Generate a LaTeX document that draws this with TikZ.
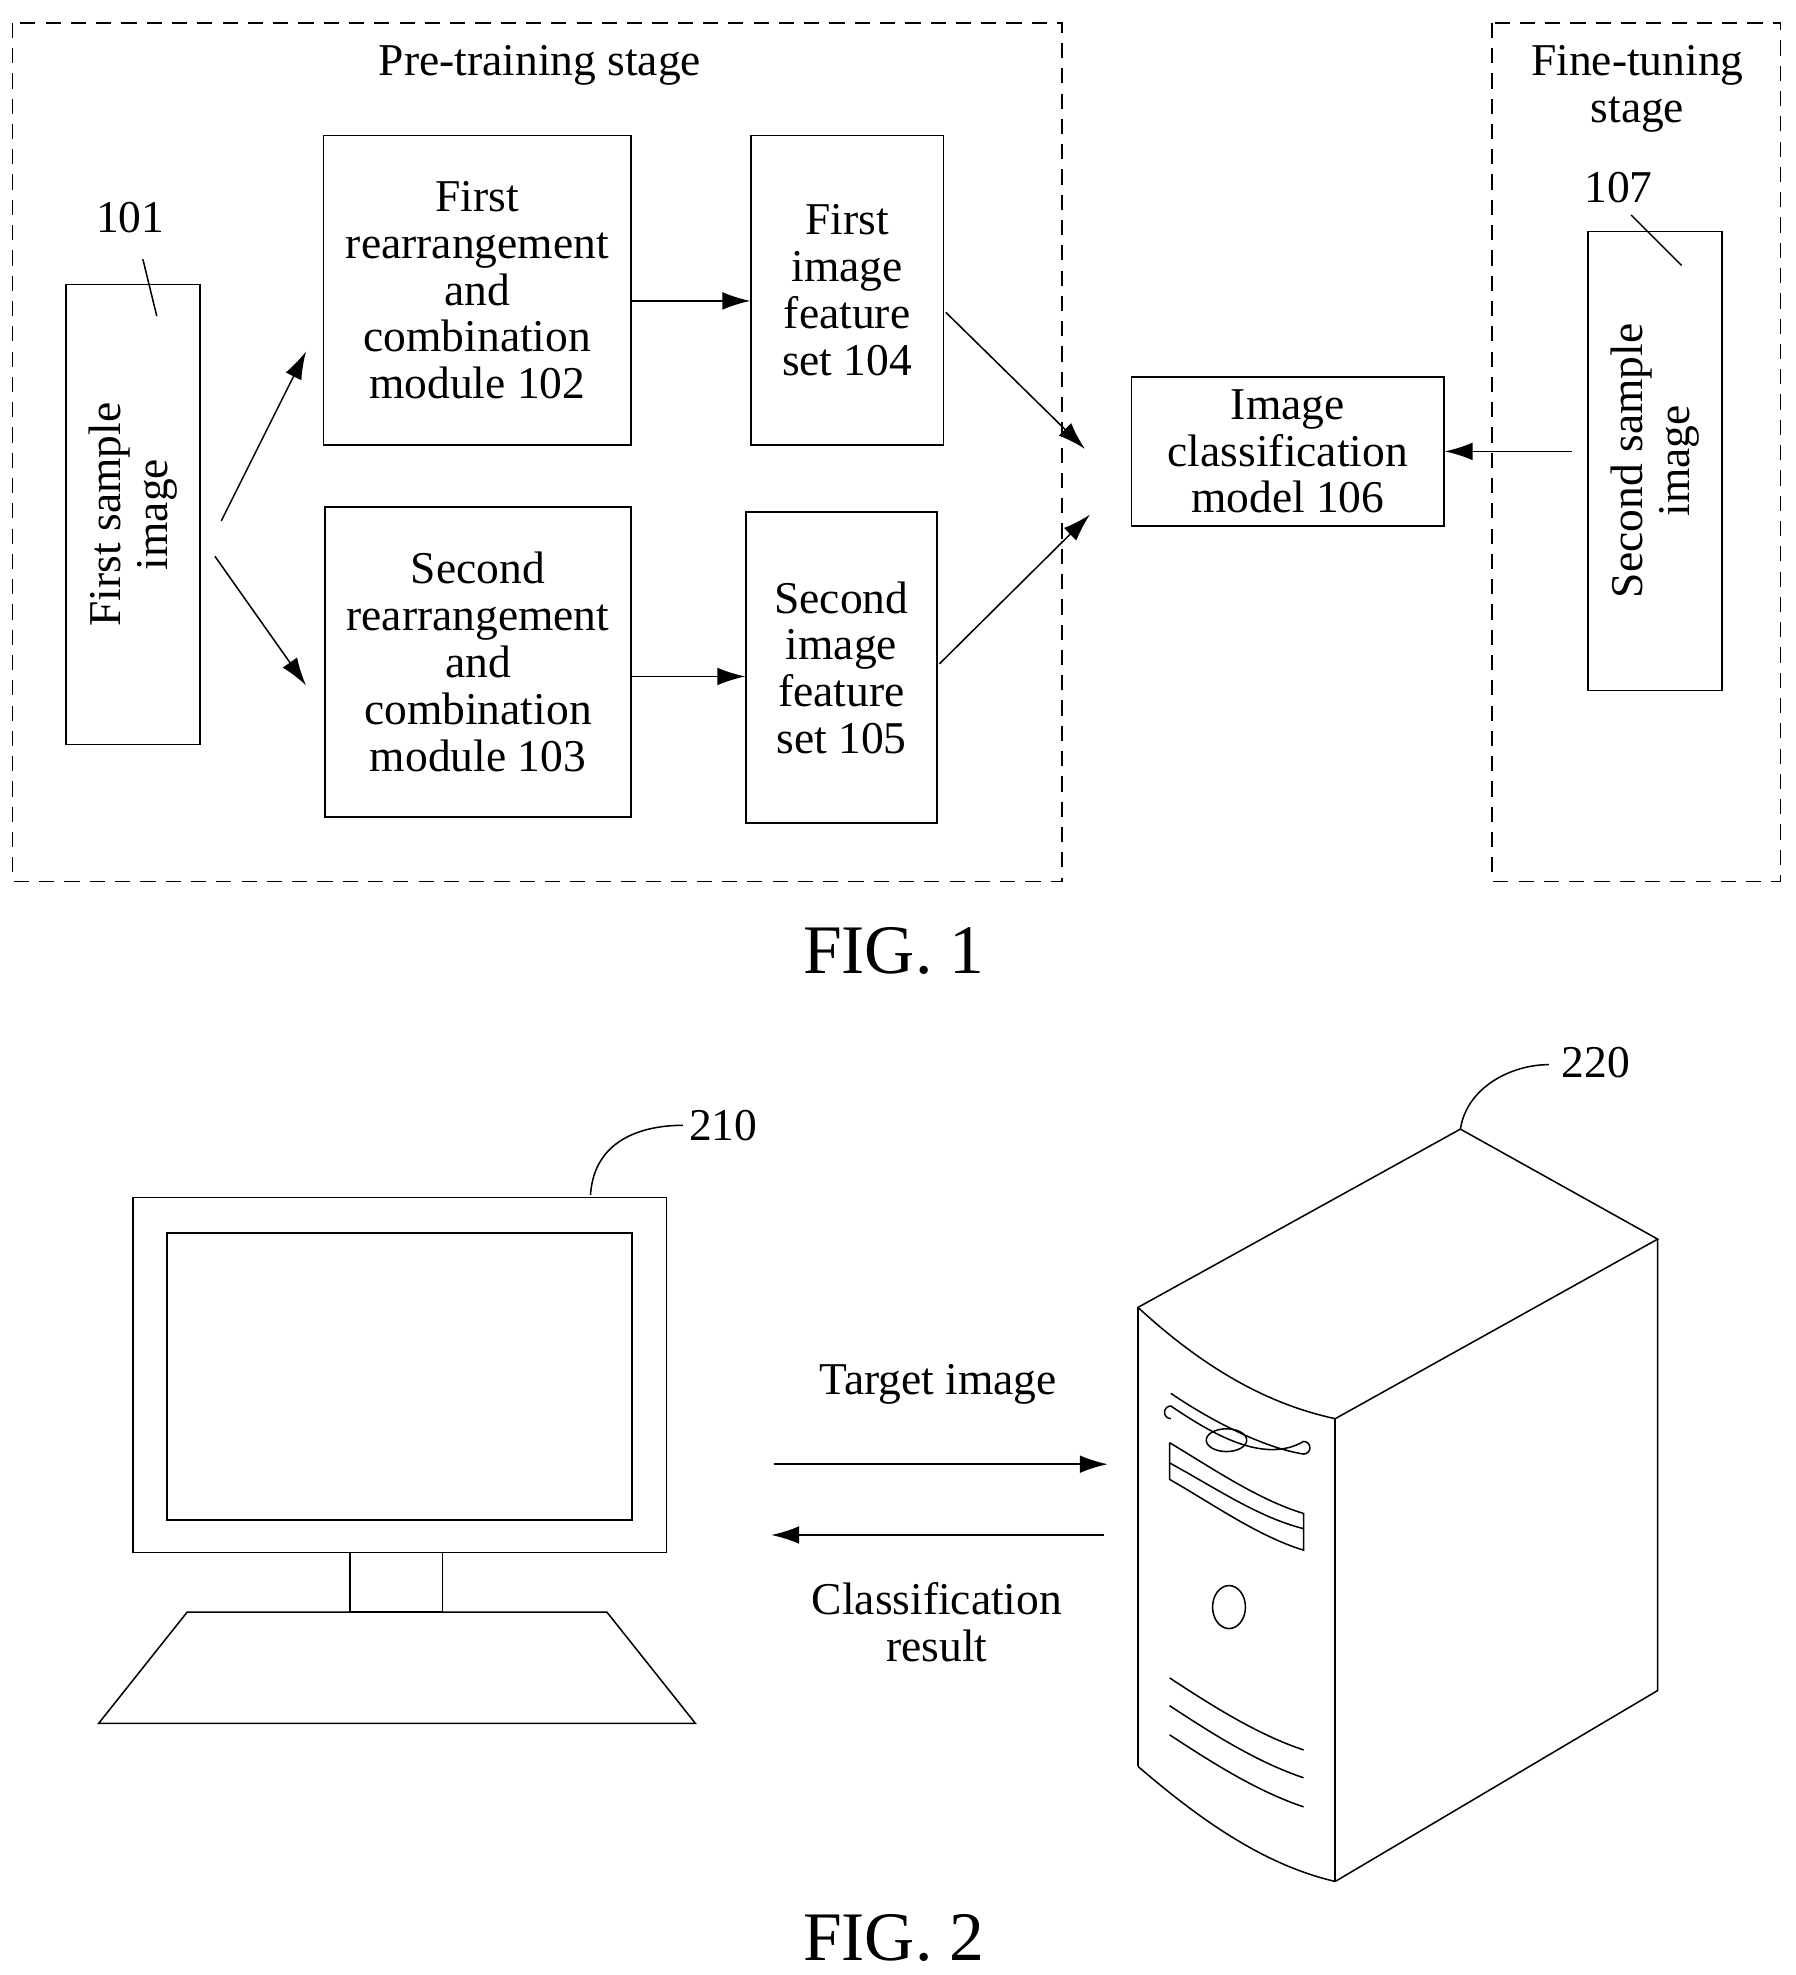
\documentclass[tikz,border=0pt]{standalone}
\usepackage{fontspec}
\setmainfont{Liberation Serif}
\usetikzlibrary{arrows.meta}
\tikzset{
  box/.style={draw, line width=1.2pt, align=center, font=\fontsize{36}{37}\selectfont},
  stage/.style={draw, dashed, line width=1.2pt, dash pattern=on 12pt off 8pt},
  txt/.style={align=center, font=\fontsize{36}{37}\selectfont},
  fig/.style={font=\fontsize{55}{58}\selectfont},
  arr/.style={line width=1.2pt, -{Latex[length=22pt,width=14pt]}},
  ln/.style={line width=1.2pt},
}
\begin{document}
\begin{tikzpicture}[x=1pt,y=-1pt]
\useasboundingbox (0,0) rectangle (1420,1562);
% FIG. 1
\draw[stage] (10,18) rectangle (840,697);
\draw[stage] (1180,18) rectangle (1408,697);
\node[txt] (pre) at (427,52) {Pre-training stage};
\node[txt] (fine) at (1295,70) {Fine-tuning\\stage};

\node[box, minimum width=106pt, minimum height=364pt] (s1) at (105,407) {};
\node[txt, rotate=90] (s1t) at (s1.center) {First sample\\image};
\node[txt] (l101) at (103,172) {101};
\draw[ln] (113,205) -- (124,250);

\node[box, minimum width=243pt, minimum height=245pt] (m2) at (377.5,229.5) {First\\rearrangement\\and\\combination\\module 102};
\node[box, minimum width=242pt, minimum height=245pt] (m3) at (378,523.5) {Second\\rearrangement\\and\\combination\\module 103};
\node[box, minimum width=152pt, minimum height=245pt] (f4) at (670,229.5) {First\\image\\feature\\set 104};
\node[box, minimum width=151pt, minimum height=246pt] (f5) at (665.5,528) {Second\\image\\feature\\set 105};
\node[box, minimum width=247pt, minimum height=118pt] (cls) at (1018.5,357) {Image\\classification\\model 106};

\node[box, minimum width=106pt, minimum height=363pt] (s2) at (1309,364.5) {};
\node[txt, rotate=90] (s2t) at (s2.center) {Second sample\\image};
\node[txt] (l107) at (1280,148) {107};
\draw[ln] (1290,170) -- (1330,210);

\coordinate (a1) at (175,412);
\coordinate (a2) at (170,440);
\draw[arr] (a1) -- (242,278);
\draw[arr] (a2) -- (242,542);
\draw[arr] (m2.east |- 0,238) -- (f4.west |- 0,238);
\draw[arr] (m3.east |- 0,535) -- (f5.west |- 0,535);
\draw[arr] (748,247) -- (858,355);
\draw[arr] (743,525) -- (862,407);
\draw[arr] (1243,357) -- (cls.east);

\node[fig] (fig1) at (707,752) {FIG. 1};

% FIG. 2
\draw[ln] (105,947) rectangle (527,1228);
\draw[ln] (132,975) rectangle (500,1202);
\draw[ln] (277,1228) rectangle (350,1275);
\draw[ln] (148,1275) -- (480,1275) -- (550,1363) -- (78,1363) -- cycle;
\node[txt] (l210) at (572,890) {210};
\draw[ln] (467,945) .. controls (470,900) and (510,890) .. (540,890);

\draw[arr] (612,1158) -- (876,1158);
\draw[arr] (873,1214) -- (610,1214);
\node[txt] (tgt) at (742,1095) {Target image};
\node[txt] (res) at (741,1283) {Classification\\result};

% server
\draw[ln] (900,1034) -- (1155,893) -- (1311,980) -- (1056,1122);
\draw[ln] (1311,980) -- (1311,1337) -- (1056,1488);
\draw[ln] (900,1034) -- (900,1397);
\draw[ln] (1056,1122) -- (1056,1488);
\draw[ln] (900,1034) .. controls (950,1080) and (1000,1110) .. (1056,1122);
\draw[ln] (900,1397) .. controls (950,1440) and (1000,1475) .. (1056,1488);
\draw[ln] (926,1102) .. controls (960,1125) and (1000,1145) .. (1031,1150) arc (90:-90:5) .. controls (1000,1158) and (960,1135) .. (926,1112) arc (270:90:5);
\draw[ln] (970,1139) ellipse (16 and 9);
\draw[ln] (925,1141) -- (925,1170) .. controls (960,1190) and (995,1215) .. (1031,1226) -- (1031,1197) .. controls (995,1186) and (960,1162) .. (925,1141);
\draw[ln] (925,1157) .. controls (960,1176) and (995,1200) .. (1031,1209);
\draw[ln] (972,1271) ellipse (13 and 17);
\foreach \dy in {0,22,45}
  \draw[ln] (925,1327+\dy) .. controls (960,1350+\dy) and (995,1372+\dy) .. (1031,1384+\dy);
\node[txt] (l220) at (1262,840) {220};
\draw[ln] (1155,893) .. controls (1160,860) and (1195,842) .. (1225,842);

\node[fig] (fig2) at (707,1533) {FIG. 2};
\end{tikzpicture}
\end{document}
